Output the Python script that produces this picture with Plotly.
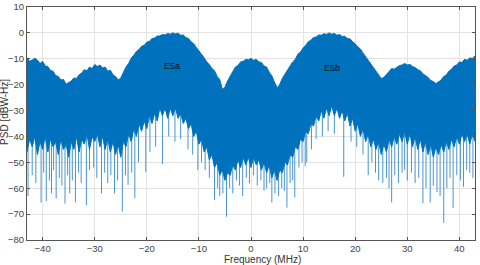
import plotly.graph_objects as go

# Frequency grid (MHz) for envelope readings: -43 ... 43 every 0.5 MHz
freq_mhz = [i * 0.5 for i in range(-86, 87)]

# Upper envelope of the PSD (dBW-Hz), read every 0.5 MHz
psd_upper = [
    -9.5, -11, -10.5, -9.8, -10.5, -11.8, -11, -12.8, -13, -14.5,
    -14.8, -16.5, -16.8, -18.2, -18, -19.8, -19.2, -18.6, -17.4, -17.6,
    -16.2, -15.5, -14.2, -14.6, -13.2, -13.8, -12.2, -13, -12.4, -13.6,
    -13.2, -14.8, -14.4, -16.2, -16.8, -18.2, -17.4, -15.2, -13.2, -11.8,
    -9.8, -8.6, -7.2, -6.4, -5.2, -4.8, -3.6, -3.2, -2.2, -2.0,
    -1.2, -1.2, -0.6, -0.8, -0.2, -0.5, 0, -0.4, -0.1, -0.9,
    -0.8, -1.8, -2.2, -3.4, -4.2, -5.6, -6.8, -8.4, -9.6, -11.2,
    -12.2, -13.8, -14.6, -16.8, -18, -21.8, -21, -18.6, -16.6, -14.8,
    -13.2, -12.6, -11.2, -11, -10.2, -10.4, -9.8, -10.6, -10.2, -11.2,
    -11.4, -12.8, -13.2, -15.2, -16.6, -19, -21.2, -20, -17.6, -16,
    -14.2, -13, -11.2, -10.2, -8.2, -7.4, -5.8, -4.8, -3.4, -2.8,
    -1.8, -1.6, -0.8, -0.9, -0.3, -0.6, 0, -0.5, -0.2, -0.9,
    -0.6, -1.4, -1.3, -2.2, -2.3, -3.4, -4.2, -5.4, -6.2, -7.8,
    -9.2, -10.8, -12.2, -13.8, -15.2, -16.6, -17.6, -17.2, -16.2, -14.8,
    -13.8, -14, -13.2, -12.6, -12.4, -11.8, -12.4, -12.2, -13, -13.4,
    -14.2, -14.6, -15.8, -16.6, -17.2, -18.4, -18.8, -19.6, -18.8, -18.2,
    -16.8, -16.2, -14.8, -14, -12.8, -12.4, -11.2, -11.4, -10.2, -10.6,
    -9.6, -10, -8.8]

# Lower edge of the dense part of the PSD (dBW-Hz), read every 0.5 MHz
psd_lower = [
    -46, -41, -44, -40, -47, -42, -45, -40, -46, -41,
    -44, -42, -47, -41, -45, -43, -48, -42, -45, -40,
    -46, -41, -43, -39, -45, -40, -42, -39, -44, -40,
    -45, -41, -46, -42, -47, -43, -48, -42, -44, -39,
    -42, -37, -40, -35, -38, -34, -37, -32, -35, -31,
    -34, -29, -32, -29, -33, -29, -32, -29, -33, -31,
    -35, -33, -37, -35, -40, -38, -43, -41, -46, -44,
    -49, -47, -52, -50, -55, -53, -57, -54, -55, -51,
    -53, -49, -52, -48, -51, -48, -52, -48, -51, -49,
    -53, -50, -54, -51, -56, -53, -57, -53, -54, -50,
    -51, -47, -48, -44, -45, -41, -42, -38, -39, -35,
    -36, -32, -34, -30, -33, -29, -32, -28, -32, -29,
    -33, -30, -34, -31, -36, -33, -38, -35, -40, -37,
    -42, -39, -44, -41, -45, -42, -47, -43, -46, -41,
    -44, -40, -43, -39, -42, -38, -43, -39, -44, -40,
    -45, -41, -46, -42, -47, -43, -48, -44, -47, -43,
    -46, -42, -45, -41, -44, -40, -43, -39, -42, -39,
    -43, -39, -42]

# Deep downward spikes: frequency (MHz) and minimum PSD (dBW-Hz)
spike_freq = [-42.8, -42.0, -41.3, -40.3, -39.8, -39.3, -38.7, -38.3, -37.9, -37.4,
              -36.8, -36.3, -35.7, -35.2, -34.8, -34.3, -33.7, -33.1, -32.6, -31.6,
              -31.0, -30.2, -29.6, -28.7, -28.1, -27.5, -26.9, -26.2, -25.6, -24.7,
              -24.1, -23.6, -22.9, -22.3, -21.6, -20.2, -19.4, -18.3, -17.0, -15.8,
              -14.6, -13.5, -12.1, -11.2, -10.2, -9.5, -8.8, -8.0, -7.0, -6.4,
              -6.0, -5.4, -4.7, -4.1, -3.5, -2.8, -2.2, -1.6, -0.9, -0.3,
              0.5, 1.2, 1.9, 2.5, 3.0, 3.6, 4.0, 4.6, 5.3, 5.9,
              6.4, 6.9, 7.5, 8.0, 8.4, 9.2, 9.8, 10.4, 10.7, 11.6,
              12.5, 13.7, 14.8, 16.0, 17.8, 19.2, 20.3, 21.5, 22.5, 23.2,
              23.9, 24.5, 25.3, 26.0, 26.5, 27.0, 27.6, 28.3, 29.0, 29.5,
              30.0, 30.8, 31.5, 32.2, 33.0, 33.6, 34.4, 35.0, 35.7, 36.3,
              37.0, 37.6, 38.2, 38.8, 39.5, 40.2, 40.8, 41.4, 42.0, 42.6]
spike_min = [-63, -55, -58, -65.5, -54, -65, -57, -62, -53, -64,
             -56, -59, -66, -55, -62, -57, -65.5, -54, -58, -66.5,
             -53, -52, -56, -62, -54, -58, -55, -62, -57, -69,
             -55, -58.7, -54, -63.8, -50, -53.7, -46, -44, -50.6, -40,
             -42, -41, -45, -47, -53, -50, -53, -56, -64.5, -60,
             -63, -62, -71, -60, -62, -57, -59, -63, -56, -58,
             -55, -59, -57, -61, -60, -58, -65.5, -62, -63, -60,
             -61, -67.5, -58, -57, -63.5, -52, -50, -51.5, -50, -45,
             -41, -40, -38, -39, -55.6, -42, -44, -47, -55, -50,
             -54, -57, -58, -56, -60, -65.5, -55, -58, -54, -53,
             -57, -54, -58, -56, -65.8, -60, -65.5, -59, -61.5, -63,
             -73.4, -60, -56, -67.6, -55, -57, -59.5, -53, -54, -56]

labels = ["E5a", "E5b"]
label_freq = [-15.2, 15.6]
label_psd = [-12.7, -13.6]

x_ticks = [-40, -30, -20, -10, 0, 10, 20, 30, 40]
y_ticks = [-80, -70, -60, -50, -40, -30, -20, -10, 0, 10]

BLUE = "#0072BD"

sx, sy = [], []
for f, m in zip(spike_freq, spike_min):
    sx += [f, f, None]
    sy += [-30, m, None]

fig = go.Figure()
fig.add_trace(go.Scatter(x=sx, y=sy, mode="lines",
                         line=dict(color="rgba(40,130,200,0.85)", width=1),
                         hoverinfo="skip", showlegend=False))
fig.add_trace(go.Scatter(x=freq_mhz, y=psd_upper, mode="lines",
                         line=dict(color=BLUE, width=1),
                         showlegend=False))
fig.add_trace(go.Scatter(x=freq_mhz, y=psd_lower, mode="lines",
                         line=dict(color=BLUE, width=1),
                         fill="tonexty", fillcolor=BLUE,
                         showlegend=False))

for t, fx, fy in zip(labels, label_freq, label_psd):
    fig.add_annotation(x=fx, y=fy, text=t, showarrow=False,
                       font=dict(family="Liberation Sans", size=9, color="#111"))

axis_common = dict(showgrid=True, gridcolor="#e3e3e3", gridwidth=1,
                   showline=True, linecolor="#555", linewidth=1, mirror="ticks",
                   ticks="inside", ticklen=3, tickcolor="#555",
                   zeroline=False, automargin=False,
                   tickfont=dict(family="Liberation Sans", size=9.5, color="#444"))

fig.update_xaxes(range=[-43, 43], tickvals=x_ticks, **axis_common)
fig.update_yaxes(range=[-80, 10], tickvals=y_ticks, **axis_common)

fig.add_annotation(xref="paper", yref="paper", x=0.525, y=-0.082,
                   text="Frequency (MHz)", showarrow=False,
                   xanchor="center", yanchor="middle",
                   font=dict(family="Liberation Sans", size=10, color="#333"))
fig.add_annotation(xref="paper", yref="paper", x=-0.049, y=0.55,
                   text="PSD [dBW-Hz]", showarrow=False, textangle=-90,
                   xanchor="center", yanchor="middle",
                   font=dict(family="Liberation Sans", size=10, color="#333"))

fig.update_layout(width=480, height=265,
                  margin=dict(l=27, r=5, t=7, b=25),
                  plot_bgcolor="white", paper_bgcolor="white")

fig.write_html("out.html",
               config={"displayModeBar": False},
               post_script="document.body.style.margin='0px';"
                           "document.body.style.overflow='hidden';")
